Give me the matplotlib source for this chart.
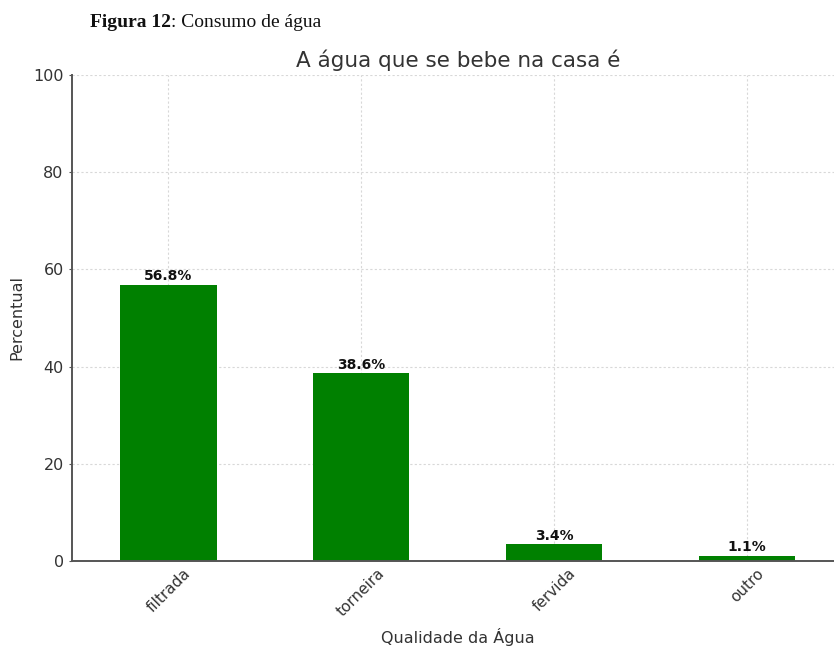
import matplotlib.pyplot as plt
import numpy as np

plt.rcParams['font.family'] = ['DejaVu Sans']

categorias = ["filtrada", "torneira", "fervida", "outro"]
percentuais = [56.8, 38.6, 3.4, 1.1]

fig = plt.figure(figsize=(8.34, 6.53), dpi=100)
# eixo um pouco mais largo que a figura: o lado direito fica cortado
ax = fig.add_axes([0.0863, 0.1409, 0.925, 0.7443])

x = np.arange(len(categorias))
barras = ax.bar(x, percentuais, width=0.5, color="green", zorder=2)
for b, v in zip(barras, percentuais):
    ax.text(b.get_x() + b.get_width() / 2, v + 0.3, f"{v}%",
            ha="center", va="bottom", fontsize=10, fontweight="bold",
            color="#111111", zorder=3)

ax.set_xlim(-0.5, len(categorias) - 0.5)
ax.set_ylim(0, 100)
ax.set_yticks([0, 20, 40, 60, 80, 100])
ax.set_xticks(x)
ax.set_xticklabels(categorias, rotation=45, fontsize=11, color="#333333")
ax.tick_params(axis="y", labelsize=11.5, labelcolor="#333333", length=2.5,
               color="#555555")
ax.tick_params(axis="x", length=0)

ax.grid(True, linestyle=(0, (2, 2)), color="#d8d8d8", linewidth=0.8, zorder=0)
ax.set_axisbelow(True)
for s in ["top", "right"]:
    ax.spines[s].set_visible(False)
for s in ["left", "bottom"]:
    ax.spines[s].set_color("#555555")
    ax.spines[s].set_linewidth(1.4)

ax.set_title("A água que se bebe na casa é", fontsize=15.5, color="#333333",
             pad=6)
ax.set_xlabel("Qualidade da Água", fontsize=11.5, color="#333333",
              labelpad=6)
ax.set_ylabel("Percentual", fontsize=11.5, color="#333333", labelpad=6)

# legenda da figura, em fonte serifada: parte em negrito e o resto logo depois
t1 = fig.text(0.108, 0.966, "Figura 12", fontsize=14, fontweight="bold",
              family="Liberation Serif", va="center", color="#111111")
fig.canvas.draw()
bb = t1.get_window_extent().transformed(fig.transFigure.inverted())
fig.text(bb.x1, 0.966, ": Consumo de água", fontsize=14,
         family="Liberation Serif", va="center", color="#111111")

fig.savefig("out.png", dpi=100)
